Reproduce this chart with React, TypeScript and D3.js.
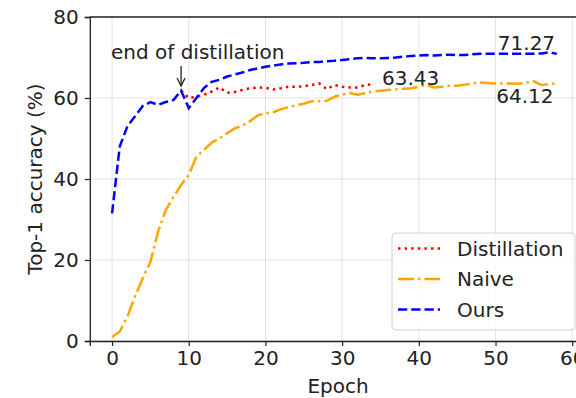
import * as d3 from "d3";
import {useEffect, useRef} from "react";

// epochs and accuracies
const oursEpochs = d3.range(0, 59);
const oursAcc = [
	31.5, 48, 53, 55.5, 58, 59, 58.3, 59, 59.5, 61.8,
	57.5, 60, 62.5, 64, 64.5, 65.3, 65.8, 66.3, 66.9, 67.3,
	67.7, 68, 68.3, 68.5, 68.6, 68.7, 68.9, 68.9, 69.1, 69.2,
	69.4, 69.6, 69.8, 69.9, 69.8, 69.8, 69.9, 70, 70.2, 70.4,
	70.5, 70.6, 70.5, 70.6, 70.7, 70.6, 70.6, 70.8, 70.9, 70.9,
	70.9, 70.9, 70.9, 70.9, 70.9, 70.9, 71.0, 71.27, 70.9,
];
const naiveEpochs = d3.range(0, 59);
const naiveAcc = [
	1, 2.3, 6, 11, 15.5, 19.5, 27, 32.3, 35.5, 38.5,
	41, 45.5, 47.2, 49, 50, 51.3, 52.5, 53.2, 54.3, 55.7,
	56.2, 56.5, 57.2, 57.7, 58.2, 58.6, 59.2, 59.2, 59.3, 60.3,
	60.8, 61.2, 60.8, 61.2, 61.6, 61.8, 62, 62.1, 62.3, 62.4,
	62.8, 63.2, 62.6, 62.8, 63, 63, 63.3, 63.6, 63.8, 63.7,
	63.6, 63.6, 63.6, 63.5, 63.8, 64.12, 63.2, 63.4, 63.7,
];
const distEpochs = d3.range(9, 35);
const distAcc = [
	61.8, 60, 60.3, 60.8, 61.6, 62.6, 61.3, 61.5, 62, 62.4,
	62.6, 62.5, 62.1, 62.4, 62.8, 62.8, 62.9, 63.2, 63.6, 62.2,
	63.2, 62.8, 62.6, 62.6, 63.2, 63.43,
];
const xTicks = [0, 10, 20, 30, 40, 50, 60];
const yTicks = [0, 20, 40, 60, 80];

const series = [
	{name: "Distillation", epochs: distEpochs, acc: distAcc, color: "red", dash: "2.5,4.1"},
	{name: "Naive", epochs: naiveEpochs, acc: naiveAcc, color: "orange", dash: "16,4,2.5,4"},
	{name: "Ours", epochs: oursEpochs, acc: oursAcc, color: "blue", dash: "9.25,4"},
];

const labels = [
	{text: "71.27", epoch: 50.3, value: 71.8},
	{text: "64.12", epoch: 50.1, value: 58.8},
	{text: "63.43", epoch: 35.2, value: 63.2},
];

const App = () => {
	const svgRef = useRef(null);

	useEffect(() => {
		const width = 576;
		const height = 398;
		const font = "DejaVu Sans, sans-serif";

		const x = d3.scaleLinear().domain([-2.9, 61.9]).range([89.8, 586.8]);
		const y = d3.scaleLinear().domain([0, 80]).range([341, 17]);

		const svg = d3.select(svgRef.current)
			.attr("width", width)
			.attr("height", height)
			.attr("viewBox", [0, 0, width, height]);

		svg.selectAll("*").remove();

		// grid
		svg.append("g")
			.selectAll("line")
			.data(xTicks)
			.join("line")
			.attr("x1", (d) => x(d)).attr("x2", (d) => x(d))
			.attr("y1", y(0)).attr("y2", y(80))
			.attr("stroke", "#b0b0b0").attr("stroke-opacity", 0.35).attr("stroke-width", 1);
		svg.append("g")
			.selectAll("line")
			.data(yTicks)
			.join("line")
			.attr("x1", x(-2.9)).attr("x2", x(61.9))
			.attr("y1", (d) => y(d)).attr("y2", (d) => y(d))
			.attr("stroke", "#b0b0b0").attr("stroke-opacity", 0.35).attr("stroke-width", 1);

		// lines
		const line = d3.line()
			.x((d) => x(d[0]))
			.y((d) => y(d[1]));

		series.forEach((s) => {
			svg.append("path")
				.attr("fill", "none")
				.attr("stroke", s.color)
				.attr("stroke-width", 2.5)
				.attr("stroke-dasharray", s.dash)
				.attr("d", line(s.epochs.map((e, i) => [e, s.acc[i]])));
		});

		// axes
		svg.append("g")
			.attr("transform", `translate(0,${y(0)})`)
			.call(d3.axisBottom(x).tickValues(xTicks).tickSize(5).tickPadding(5))
			.call((g) => g.select(".domain").attr("stroke", "#222").attr("stroke-width", 1.3))
			.call((g) => g.selectAll(".tick line").attr("stroke", "#222").attr("stroke-width", 1.2))
			.selectAll("text")
			.attr("font-family", font).attr("font-size", 20).attr("fill", "#222");

		svg.append("g")
			.attr("transform", `translate(${x(-2.9)},0)`)
			.call(d3.axisLeft(y).tickValues(yTicks).tickSize(5).tickPadding(6))
			.call((g) => g.select(".domain").attr("stroke", "#222").attr("stroke-width", 1.3))
			.call((g) => g.selectAll(".tick line").attr("stroke", "#222").attr("stroke-width", 1.2))
			.selectAll("text")
			.attr("font-family", font).attr("font-size", 20).attr("fill", "#222");

		// top spine
		svg.append("line")
			.attr("x1", x(-2.9)).attr("x2", x(61.9))
			.attr("y1", y(80)).attr("y2", y(80))
			.attr("stroke", "#222").attr("stroke-width", 1.3);

		// axis labels
		svg.append("text")
			.attr("x", 338).attr("y", 393)
			.attr("text-anchor", "middle")
			.attr("font-family", font).attr("font-size", 20).attr("fill", "#222")
			.text("Epoch");
		svg.append("text")
			.attr("transform", `translate(42,${y(40)}) rotate(-90)`)
			.attr("text-anchor", "middle")
			.attr("font-family", font).attr("font-size", 20).attr("fill", "#222")
			.text("Top-1 accuracy (%)");

		// value labels
		svg.append("g")
			.selectAll("text")
			.data(labels)
			.join("text")
			.attr("x", (d) => x(d.epoch)).attr("y", (d) => y(d.value))
			.attr("font-family", font).attr("font-size", 20).attr("fill", "#222")
			.text((d) => d.text);

		// annotation
		svg.append("text")
			.attr("x", 111).attr("y", 59)
			.attr("font-family", font).attr("font-size", 20).attr("fill", "#222")
			.text("end of distillation");
		const ax = x(9);
		svg.append("line")
			.attr("x1", ax).attr("x2", ax).attr("y1", 66).attr("y2", 86)
			.attr("stroke", "#222").attr("stroke-width", 1.3);
		svg.append("path")
			.attr("d", `M${ax - 4},${78} L${ax},${86} L${ax + 4},${78}`)
			.attr("fill", "none").attr("stroke", "#222").attr("stroke-width", 1.3);

		// legend
		const lg = svg.append("g").attr("transform", "translate(392,233)");
		lg.append("rect")
			.attr("width", 183).attr("height", 97).attr("rx", 4)
			.attr("fill", "white").attr("fill-opacity", 0.8)
			.attr("stroke", "#d0d0d0").attr("stroke-width", 1);
		series.forEach((s, i) => {
			const ly = 15.5 + i * 30.5;
			lg.append("line")
				.attr("x1", 6).attr("x2", 48).attr("y1", ly).attr("y2", ly)
				.attr("stroke", s.color).attr("stroke-width", 2.5)
				.attr("stroke-dasharray", s.dash);
			lg.append("text")
				.attr("x", 65).attr("y", ly + 7)
				.attr("font-family", font).attr("font-size", 20).attr("fill", "#222")
				.text(s.name);
		});
	}, []);

	return (
		<div style={{position: "absolute", left: 0, top: 0, width: 576, height: 398, overflow: "hidden", background: "white"}}>
			<svg ref={svgRef}></svg>
		</div>
	);
};
export default App;
